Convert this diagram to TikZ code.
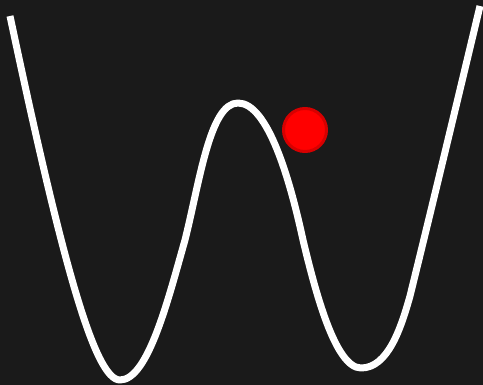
\documentclass[tikz,border=0pt]{standalone}
\usepackage{tikz}
\usetikzlibrary{positioning}
\definecolor{bgdark}{RGB}{26, 26, 26}
\definecolor{balldark}{RGB}{215, 0, 0}

\begin{document}
\begin{tikzpicture}[x=0.75pt, y=-0.75pt,
  potential/.style={draw=white, line width=5.25pt, line join=round},
  ball/.style={circle, fill=red, draw=balldark, line width=2.25pt,
    minimum size=32.25pt, inner sep=0pt}
]
  \fill[bgdark] (0,0) rectangle (483,385);
  \useasboundingbox (0,0) rectangle (483,385);

  % double well
  \coordinate (leftend) at (10,16);
  \coordinate (leftmin) at (120,380);
  \coordinate (bumptop) at (238,103);
  \coordinate (rightmin) at (361,368);
  \coordinate (rightend) at (480,6);
  \draw[potential] (leftend)
    .. controls (63,266) and (95,380) .. (leftmin)
    .. controls (148,380) and (168,300) .. (185,240)
    .. controls (200,180) and (210,103) .. (bumptop)
    .. controls (268,103) and (290,180) .. (303,240)
    .. controls (315,290) and (335,368) .. (rightmin)
    .. controls (388,368) and (401,328) .. (410,296)
    .. controls (430,215) and (460,90) .. (rightend);

  \node[ball] (marble) at (305,130) {};
\end{tikzpicture}
\end{document}
